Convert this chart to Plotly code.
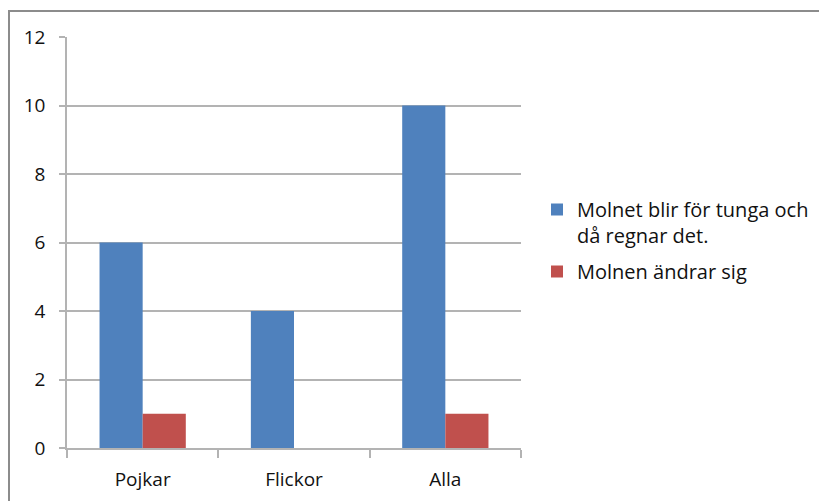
import plotly.graph_objects as go

# Survey answers per group
categories = ["Pojkar", "Flickor", "Alla"]
series_names = ["Molnet blir för tunga och<br>då regnar det.", "Molnen ändrar sig"]
tunga_values = [6, 4, 10]
andrar_values = [1, 0, 1]
y_ticks = [0, 2, 4, 6, 8, 10, 12]

colors = ["#4F81BD", "#C0504D"]
font_family = "Open Sans, Liberation Sans, sans-serif"

# plot area in pixels
W, H = 819, 501
L, R, T, B = 67, 298, 37, 53
pw, ph = W - L - R, H - T - B

fig = go.Figure()
for i, (name, vals) in enumerate(zip(series_names, [tunga_values, andrar_values])):
    fig.add_trace(go.Bar(
        x=categories, y=vals, name=name,
        marker=dict(color=colors[i], line=dict(width=0)),
        legendgroup=f"g{i}",
    ))

grid_col = "#B3B3B3"
fig.update_layout(
    width=W, height=H,
    margin=dict(l=L, r=R, t=T, b=B, autoexpand=False),
    paper_bgcolor="white", plot_bgcolor="white",
    barmode="group", bargap=0.43, bargroupgap=0,
    font=dict(family=font_family, size=19, color="#111111"),
    showlegend=True,
    legend=dict(
        x=(537 - L) / pw, xanchor="left",
        y=(T + ph - 190) / ph, yanchor="top",
        font=dict(size=20, color="#111111"),
        valign="top", tracegroupgap=7,
        bgcolor="rgba(0,0,0,0)",
    ),
    xaxis=dict(
        showgrid=False, showline=True, linecolor=grid_col, linewidth=1.5,
        ticks="outside", tickson="boundaries", ticklen=8, tickcolor=grid_col,
        tickwidth=1.5, tickfont=dict(size=19), ticklabelstandoff=13,
    ),
    yaxis=dict(
        range=[0, 12], tickvals=y_ticks, showgrid=True, gridcolor=grid_col,
        gridwidth=1.5, showline=True, linecolor=grid_col, linewidth=1.5,
        ticks="outside", ticklen=6, tickcolor=grid_col, tickwidth=1.5,
        tickfont=dict(size=19), zeroline=False, ticklabelstandoff=10,
    ),
    shapes=[dict(
        type="rect", xref="paper", yref="paper",
        x0=(9 - L) / pw, x1=(W + 20 - L) / pw,
        y0=-(H + 20 - T - ph) / ph, y1=1 + (T - 11) / ph,
        line=dict(color="#8C8C8C", width=2), fillcolor="rgba(0,0,0,0)",
        layer="below",
    )],
)

fig.write_html("out.html")
